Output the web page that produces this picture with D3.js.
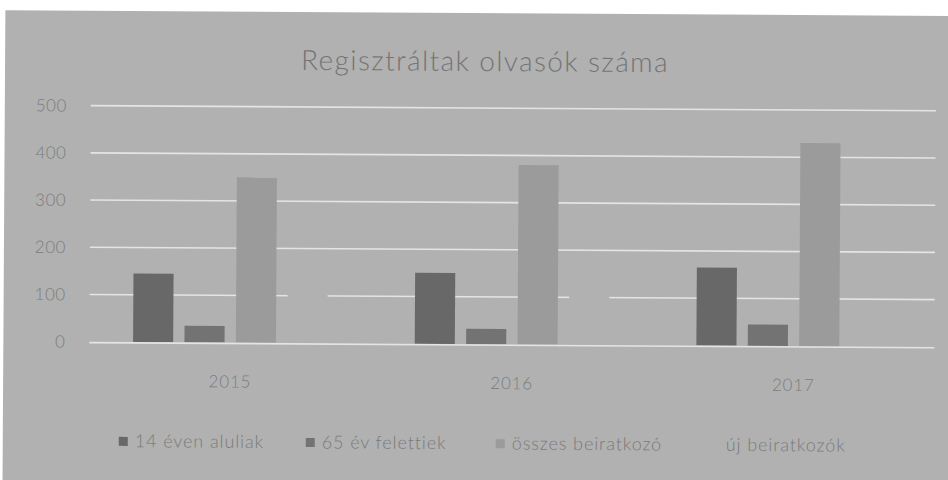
<!DOCTYPE html>
<html>
<head>
<meta charset="utf-8">
<script src="https://cdn.jsdelivr.net/npm/d3@7"></script>
<style>
  body { margin: 0; background: #fff; }
  svg { display: block; }
</style>
</head>
<body>
<div id="chart"></div>
<script>
const width = 948;
const height = 480;
const title = 'Regisztráltak olvasók száma';
const years = ['2015', '2016', '2017'];
const series = ['14 éven aluliak', '65 év felettiek', 'összes beiratkozó', 'új beiratkozók'];
const under14 = [145, 150, 165];
const over65 = [35, 32, 45];
const total = [350, 380, 430];
const newReaders = [130, 120, 90];   // bars barely visible in the scan
const yTicks = [0, 100, 200, 300, 400, 500];

const colors = ['#686868', '#737373', '#9b9b9b', '#b1b1b1'];
const values = [under14, over65, total, newReaders];

const rows = years.map((y, i) => ({
  year: y,
  vals: series.map((s, j) => ({ key: s, idx: j, value: values[j][i] }))
}));

const svg = d3.select('#chart').append('svg')
  .attr('width', width)
  .attr('height', height);

// whole scan is slightly tilted
const g = svg.append('g')
  .attr('transform', 'rotate(0.35, 474, 240)');

g.append('rect')
  .attr('x', 4)
  .attr('y', 13)
  .attr('width', 960)
  .attr('height', 480)
  .attr('fill', '#b1b1b1');

g.append('text')
  .attr('x', 484)
  .attr('y', 71)
  .attr('text-anchor', 'middle')
  .style('font-family', 'Lato, "Open Sans", sans-serif')
  .style('font-size', '28px')
  .style('font-weight', 300)
  .style('letter-spacing', '1.4px')
  .attr('fill', '#747474')
  .text(title);

const x0 = d3.scaleBand()
  .domain(years)
  .range([90, 935])
  .paddingInner(0)
  .paddingOuter(0);

const x1 = d3.scaleBand()
  .domain(series)
  .range([0, x0.bandwidth()])
  .paddingInner(0.22)
  .paddingOuter(0.85);

const y = d3.scaleLinear()
  .domain([0, 500])
  .range([344, 108]);

// gridlines
g.append('g')
  .selectAll('line')
  .data(yTicks.filter(d => d > 0))
  .join('line')
  .attr('x1', 90)
  .attr('x2', 935)
  .attr('y1', d => y(d))
  .attr('y2', d => y(d))
  .attr('stroke', '#e4e4e4')
  .attr('stroke-width', 1.6);

// y labels
g.append('g')
  .selectAll('text')
  .data(yTicks)
  .join('text')
  .attr('x', 66)
  .attr('y', d => y(d))
  .attr('dy', '0.35em')
  .attr('text-anchor', 'end')
  .style('font-family', 'Lato, sans-serif')
  .style('font-size', '17px')
  .style('font-weight', 300)
  .style('letter-spacing', '0.5px')
  .attr('fill', '#7c7c7c')
  .text(d => d);

// bars
g.append('g')
  .selectAll('g')
  .data(rows)
  .join('g')
  .attr('transform', d => `translate(${x0(d.year)},0)`)
  .selectAll('rect')
  .data(d => d.vals)
  .join('rect')
  .attr('x', d => x1(d.key))
  .attr('width', x1.bandwidth())
  .attr('y', d => y(d.value))
  .attr('height', d => y(0) - y(d.value))
  .attr('fill', d => colors[d.idx]);

// baseline on top of the bars
g.append('line')
  .attr('x1', 90)
  .attr('x2', 935)
  .attr('y1', y(0) + 1)
  .attr('y2', y(0) + 1)
  .attr('stroke', '#e4e4e4')
  .attr('stroke-width', 1.6);

// category labels
g.append('g')
  .selectAll('text')
  .data(years)
  .join('text')
  .attr('x', d => x0(d) + x0.bandwidth() / 2)
  .attr('y', 383)
  .attr('dy', '0.35em')
  .attr('text-anchor', 'middle')
  .style('font-family', 'Lato, sans-serif')
  .style('font-size', '17px')
  .style('font-weight', 300)
  .style('letter-spacing', '0.8px')
  .attr('fill', '#7c7c7c')
  .text(d => d);

// legend
const legendX = [120, 307, 497, 711];
const legend = g.append('g')
  .selectAll('g')
  .data(series)
  .join('g')
  .attr('transform', (d, i) => `translate(${legendX[i]},443)`);

legend.append('rect')
  .attr('x', 0)
  .attr('y', -4)
  .attr('width', 9)
  .attr('height', 9)
  .attr('fill', (d, i) => colors[i]);

legend.append('text')
  .attr('x', 16)
  .attr('y', 0)
  .attr('dy', '0.35em')
  .style('font-family', 'Lato, sans-serif')
  .style('font-size', '18px')
  .style('font-weight', 300)
  .style('letter-spacing', '0.9px')
  .attr('fill', '#7a7a7a')
  .text(d => d);
</script>
</body>
</html>
